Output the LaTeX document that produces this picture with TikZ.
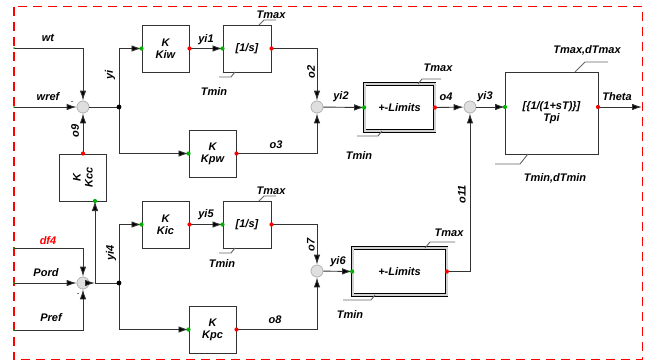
\documentclass[tikz,border=0pt]{standalone}
\usepackage{fontspec}
\setmainfont{Liberation Sans}
\usetikzlibrary{arrows.meta,calc}
\begin{document}
\begin{tikzpicture}[x=1pt,y=-1pt,
  font=\fontsize{11}{12}\selectfont\bfseries\itshape,
  wire/.style={draw=black!80,line width=0.9pt},
  arr/.style={wire,-{Latex[length=10pt,width=6.5pt,fill=black]}},
  blk/.style={draw=black!80,line width=1pt,minimum width=47pt,minimum height=47pt,inner sep=0pt,align=center,fill=white},
  lim/.style={blk,draw=black,line width=0.8pt,double=gray!35,double distance=2pt},
  sumn/.style={circle,minimum size=12pt,inner sep=0pt,fill=gray!25,draw=gray!60,line width=0.8pt},
  leader/.style={draw=black!60,line width=0.9pt},
  lbl/.style={inner sep=0pt},
  indot/.style={fill=green!70!black},
  outdot/.style={fill=red},
]
\useasboundingbox (0,0) rectangle (650,362);
\draw[red,line width=1.3pt,dash pattern=on 9pt off 6pt] (14,6.5) rectangle (642.5,359.5);

% blocks
\node[blk] (Kiw) at (165.5,48.5) {K\\Kiw};
\node[blk,minimum width=48pt] (I1) at (247,48.5) {[1/s]};
\node[blk] (Kpw) at (212.5,153.5) {K\\Kpw};
\node[lim,minimum width=70pt] (L1) at (399.5,107.5) {+-Limits};
\node[blk,minimum width=93pt,minimum height=82pt] (Tpi) at (551.5,113) {[\{1/(1+sT)\}]\\Tpi};
\node[blk] (Kcc) at (83,177.5) {};
\node[rotate=90,align=center,inner sep=0pt] (Kcct) at (Kcc) {K\\Kcc};
\node[blk] (Kic) at (165.5,224.5) {K\\Kic};
\node[blk,minimum width=48pt] (I2) at (247,224.5) {[1/s]};
\node[blk] (Kpc) at (212.5,329.5) {K\\Kpc};
\node[lim,minimum width=94pt] (L2) at (399.5,271.5) {+-Limits};

% summing junctions
\node[sumn] (S1) at (83,107) {};
\node[sumn] (S2) at (317,107) {};
\node[sumn] (S3) at (470,107) {};
\node[sumn] (S4) at (317,271) {};
\node[sumn] (S5) at (83,283) {};

% coordinates
\coordinate (wtin) at (14,48);
\coordinate (wrefin) at (14,107);
\coordinate (df4in) at (14,248);
\coordinate (pordin) at (14,283);
\coordinate (prefin) at (14,330);
\coordinate (J1) at (119,107);
\coordinate (J2) at (119,283);
\coordinate (B1) at (95,283);
\coordinate (Kccin) at (95,201);
\coordinate (Tpiin) at (505,107);
\coordinate (Tpiout) at (598,107);
\coordinate (thetaout) at (642,107);

% wires upper
\draw[arr] (wtin) -| (S1);
\draw[arr] (wrefin) -- (S1);
\draw[arr] (Kcc.north) -- (S1);
\draw[wire] (S1) -- (J1);
\draw[arr] (J1) |- (Kiw.west);
\draw[arr] (J1) |- (Kpw.west);
\draw[arr] (Kiw.east) -- (I1.west);
\draw[arr] (I1.east) -| (S2);
\draw[arr] (Kpw.east) -| (S2);
\draw[arr] (S2) -- (L1.west);
\draw[arr] (L1.east) -- (S3);
\draw[arr] (S3) -- (Tpiin);
\draw[arr] (Tpiout) -- (thetaout);
\draw[arr] (L2.east) -| (S3);

% wires lower
\draw[arr] (df4in) -| (S5);
\draw[arr] (pordin) -- (S5);
\draw[arr] (prefin) -| (S5);
\draw[arr] (S5) -- (B1);
\draw[wire] (B1) -- (J2);
\draw[arr] (B1) -- (Kccin);
\draw[arr] (J2) |- (Kic.west);
\draw[arr] (J2) |- (Kpc.west);
\draw[arr] (Kic.east) -- (I2.west);
\draw[arr] (I2.east) -| (S4);
\draw[arr] (Kpc.east) -| (S4);
\draw[arr] (S4) -- (L2.west);

% dots
\foreach \p in {Kiw.west,I1.west,Kpw.west,L1.west,Tpiin,Kccin,Kic.west,I2.west,Kpc.west,L2.west}
  \fill[indot] (\p) circle (2.1pt);
\foreach \p in {Kiw.east,I1.east,Kpw.east,L1.east,Tpiout,Kcc.north,Kic.east,I2.east,Kpc.east,L2.east}
  \fill[outdot] (\p) circle (2.1pt);
\foreach \p in {wtin,wrefin,df4in,pordin,prefin}
  \fill[indot] (\p) circle (0.8pt);
\fill[black] (J1) circle (2.4pt);
\fill[black] (J2) circle (2.4pt);

% limit leaders
\draw[leader] (259,25) -- (264,20) -- (276,20);
\draw[leader] (235,72) -- (231,77) -- (219,77);
\draw[leader] (418,84) -- (422,79) -- (441,79);
\draw[leader] (382,131) -- (378,136) -- (357,136);
\draw[leader] (575,72) -- (585,62) -- (608,62);
\draw[leader] (528,154) -- (520,164) -- (495,164);
\draw[leader] (259,201) -- (264,196) -- (276,196);
\draw[leader] (235,248) -- (231,253) -- (219,253);
\draw[leader] (425,248) -- (430,242) -- (455,242);
\draw[leader] (375,295) -- (371,300) -- (343,300);

% labels
\node[lbl] (lwt) at (48,38) {wt};
\node[lbl] (lwref) at (48,97) {wref};
\node[lbl,rotate=90] (lo9) at (75,131) {o9};
\node[lbl,rotate=90] (lyi) at (110,75) {yi};
\node[lbl] (lyi1) at (206,40) {yi1};
\node[lbl] (lT1) at (271,15) {Tmax};
\node[lbl] (lt1) at (214,92) {Tmin};
\node[lbl,rotate=90] (lo2) at (311,72) {o2};
\node[lbl] (lo3) at (276,145) {o3};
\node[lbl] (lyi2) at (341,97) {yi2};
\node[lbl] (lT2) at (438,68) {Tmax};
\node[lbl] (lt2) at (359,156) {Tmin};
\node[lbl] (lo4) at (446,97) {o4};
\node[lbl] (lyi3) at (485,97) {yi3};
\node[lbl] (lT3) at (587,50) {Tmax,dTmax};
\node[lbl] (lt3) at (555,178) {Tmin,dTmin};
\node[lbl] (ltheta) at (617,97) {Theta};
\node[lbl,rotate=90] (lo11) at (462,194) {o11};
\node[lbl,text=red] (ldf4) at (48,241) {df4};
\node[lbl] (lpord) at (46,273) {Pord};
\node[lbl] (lpref) at (51,318) {Pref};
\node[lbl,rotate=90] (lyi4) at (111,253) {yi4};
\node[lbl] (lyi5) at (206,215) {yi5};
\node[lbl] (lT4) at (271,191) {Tmax};
\node[lbl] (lt4) at (222,264) {Tmin};
\node[lbl,rotate=90] (lo7) at (311,245) {o7};
\node[lbl] (lyi6) at (338,262) {yi6};
\node[lbl] (lo8) at (275,320) {o8};
\node[lbl] (lT5) at (449,233) {Tmax};
\node[lbl] (lt5) at (350,315) {Tmin};
\node[lbl,font=\fontsize{6}{6}\selectfont\bfseries] (m1) at (72,103) {-};
\node[lbl,font=\fontsize{6}{6}\selectfont\bfseries] (m2) at (78,295) {-};
\end{tikzpicture}
\end{document}
